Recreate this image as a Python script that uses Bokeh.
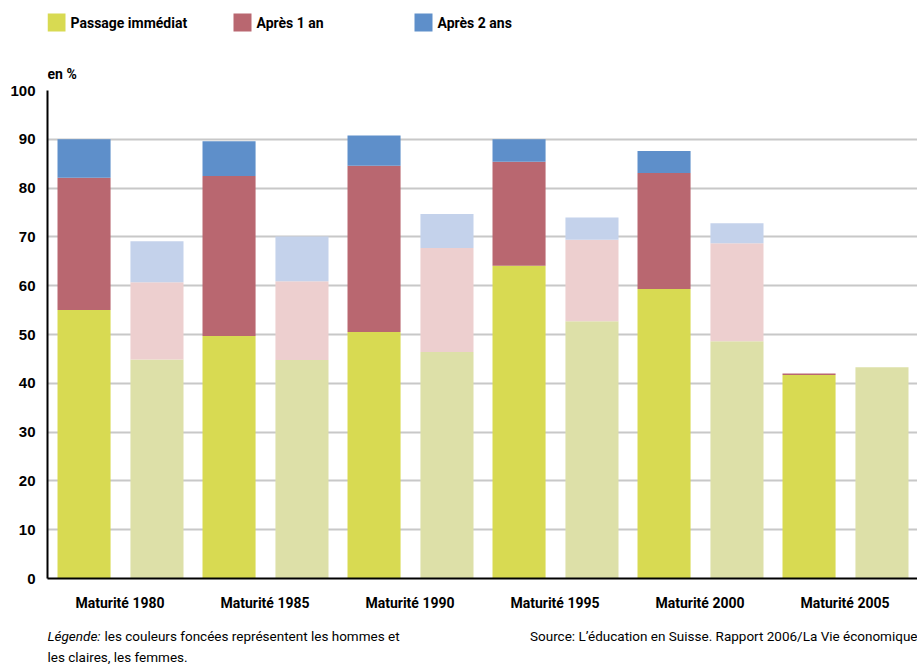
from bokeh.plotting import figure
from bokeh.layouts import column
from bokeh.models import (ColumnDataSource, FixedTicker, Label, BoxAnnotation, Range1d)
from bokeh.transform import dodge
from bokeh.embed import file_html
from bokeh.resources import INLINE

# ---- data -------------------------------------------------------------
groups = ["Maturité 1980", "Maturité 1985", "Maturité 1990",
          "Maturité 1995", "Maturité 2000", "Maturité 2005"]
series = ["Passage immédiat", "Après 1 an", "Après 2 ans"]
men_imm = [55.0, 49.7, 50.5, 64.1, 59.3, 41.7]
men_1an = [27.1, 32.8, 34.1, 21.3, 23.8, 0.3]
men_2ans = [7.9, 7.1, 6.2, 4.6, 4.5, 0.0]
women_imm = [44.9, 44.8, 46.4, 52.7, 48.6, 43.3]
women_1an = [15.8, 16.1, 21.3, 16.7, 20.1, 0.0]
women_2ans = [8.4, 9.2, 7.0, 4.6, 4.1, 0.0]
y_ticks = [0, 10, 20, 30, 40, 50, 60, 70, 80, 90, 100]

dark_colors = ["#D8DA52", "#B96770", "#5E8FCA"]
light_colors = ["#DDE0A8", "#EDCFCF", "#C4D2EB"]

FONT = "Roboto"
W = 917
LEFT = 47          # left border of all frames (aligned in the column)
TOP_H, MAIN_H, BOT_H = 80, 540, 44


def blank_fig(h):
    f = figure(width=W, height=h, output_backend="svg", toolbar_location=None,
               x_range=Range1d(LEFT, W), y_range=Range1d(h, 0),
               x_axis_location=None, y_axis_location=None,
               min_border_left=LEFT, min_border_right=0,
               min_border_top=0, min_border_bottom=0)
    f.grid.visible = False
    f.outline_line_color = None
    f.background_fill_color = "white"
    f.border_fill_color = "white"
    return f


def lab(f, text, x, y, align="left", style="normal", size="13.5px"):
    f.add_layout(Label(x=x, y=y, text=text, text_font=FONT, text_font_size=size,
                       text_font_style=style, text_align=align,
                       text_baseline="middle", text_color="black"))


# ---- header: legend + unit ---------------------------------------------
top = blank_fig(TOP_H)
leg_x = [47, 233, 414]
for name, c, lx in zip(series, dark_colors, leg_x):
    top.add_layout(BoxAnnotation(left=lx, right=lx + 18, top=13, bottom=31,
                                 fill_color=c, fill_alpha=1, line_color=None))
    lab(top, name, lx + 23, 22, style="bold", size="14px")
lab(top, "en %", 47, 73, style="bold", size="14px")

# ---- main chart -----------------------------------------------------------
centers = [i + 0.5 for i in range(len(groups))]
src = ColumnDataSource(dict(
    x=centers,
    m0=men_imm, m1=men_1an, m2=men_2ans,
    f0=women_imm, f1=women_1an, f2=women_2ans,
))

p = figure(width=W, height=MAIN_H, output_backend="svg", toolbar_location=None,
           x_range=(0, len(groups)), y_range=(0, 100),
           min_border_left=LEFT, min_border_right=0, min_border_top=10,
           min_border_bottom=42)
p.outline_line_color = None
p.background_fill_color = "white"
p.border_fill_color = "white"

bw = 0.366
p.vbar_stack(["m0", "m1", "m2"], x=dodge("x", -0.248, range=p.x_range),
             width=bw, source=src, color=dark_colors, line_color=None)
p.vbar_stack(["f0", "f1", "f2"], x=dodge("x", 0.255, range=p.x_range),
             width=bw, source=src, color=light_colors, line_color=None)

p.xaxis.ticker = FixedTicker(ticks=centers)
p.xaxis.major_label_overrides = {c: g for c, g in zip(centers, groups)}
p.xaxis.major_tick_line_color = None
p.xaxis.minor_tick_line_color = None
p.xaxis.major_tick_out = 0
p.xaxis.major_label_standoff = 16
p.xaxis.major_label_text_font = FONT
p.xaxis.major_label_text_font_style = "bold"
p.xaxis.major_label_text_font_size = "14px"
p.xaxis.major_label_text_color = "black"
p.xaxis.axis_line_color = "black"
p.xaxis.axis_line_width = 2

p.yaxis.ticker = FixedTicker(ticks=y_ticks)
p.yaxis.major_tick_line_color = None
p.yaxis.minor_tick_line_color = None
p.yaxis.major_tick_out = 0
p.yaxis.major_label_standoff = 12
p.yaxis.major_label_text_font = "Liberation Sans"
p.yaxis.major_label_text_font_style = "bold"
p.yaxis.major_label_text_font_size = "15px"
p.yaxis.major_label_text_color = "black"
p.yaxis.axis_line_color = "black"
p.yaxis.axis_line_width = 2

p.xgrid.grid_line_color = None
p.ygrid.grid_line_color = "#C8C8C8"
p.ygrid.grid_line_width = 2

# ---- footer ---------------------------------------------------------------
bot = blank_fig(BOT_H)
lab(bot, "Légende:", 47, 15, style="italic")
lab(bot, "les couleurs foncées représentent les hommes et", 104, 15)
lab(bot, "les claires, les femmes.", 47, 36)
lab(bot, "Source: L’éducation en Suisse. Rapport 2006/La Vie économique", W, 15, align="right")

layout = column(top, p, bot, spacing=0)
open("out.html", "w").write(file_html(layout, INLINE))
